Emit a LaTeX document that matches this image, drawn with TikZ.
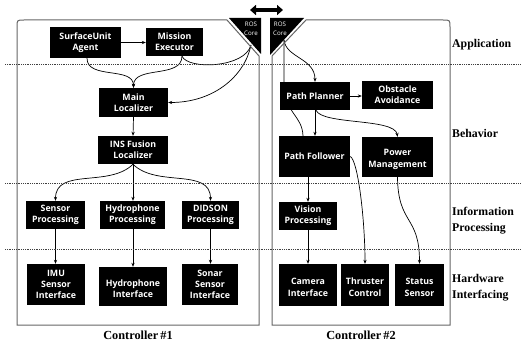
\documentclass[tikz,border=0pt]{standalone}
\usepackage{fontspec}
\setmainfont{Liberation Serif}
\newfontfamily\boxfont{Open Sans}
\usetikzlibrary{arrows.meta}
\pgfdeclarelayer{backdrop}
\pgfdeclarelayer{wires}
\pgfsetlayers{backdrop,wires,main}

\begin{document}
\begin{tikzpicture}[x=1pt,y=-1pt,
  blk/.style={fill=black,text=white,font=\boxfont\bfseries\fontsize{8.8}{11.3}\selectfont,
              align=center,inner sep=0pt},
  wire/.style={draw=black,line width=0.7pt},
  arr/.style={wire,-{Stealth[length=4pt,width=3.2pt]}},
  ctrlframe/.style={draw=black!60,line width=1pt},
  tierline/.style={draw=black!75,line width=0.9pt,dash pattern=on 0.9pt off 0.9pt},
  tierlabel/.style={font=\fontsize{11.8}{16}\selectfont\bfseries,align=left,anchor=west,inner sep=0pt},
  ctrl/.style={font=\fontsize{12.3}{14}\selectfont\bfseries,inner sep=0pt},
  rostxt/.style={text=white,font=\boxfont\fontsize{6.2}{8.8}\selectfont,align=center,inner sep=0pt}
]
\useasboundingbox (0,0) rectangle (523,345);
\begin{pgfonlayer}{backdrop}
\fill[white] (0,0) rectangle (523,345);
\end{pgfonlayer}

% controller frames
\draw[ctrlframe] (17,325) -- (17,27) .. controls (17,20) .. (24,20) -- (227,20) -- (259,56) -- (259,325) -- cycle;
\draw[ctrlframe] (272,325) -- (272,56) -- (306,20) -- (443,20) .. controls (450,20) .. (450,27) -- (450,325) -- cycle;

% ROS cores
\fill[black] (229,18) -- (261,18) -- (261,54) -- cycle;
\fill[black] (270,18) -- (304,18) -- (270,55) -- cycle;
\node[rostxt] (rosA) at (251,29) {ROS\\Core};
\node[rostxt] (rosB) at (280,29) {ROS\\Core};
\coordinate (ros1) at (251,45);
\coordinate (ros2) at (284,40);
\coordinate (linkL) at (250,10);
\coordinate (linkR) at (283,10);
\draw[line width=3.5pt,{Triangle[length=6pt,width=10pt]}-{Triangle[length=6pt,width=10pt]}] (linkL) -- (linkR);

% tier separators
\draw[tierline] (5,64) -- (521,64);
\draw[tierline] (5,183) -- (521,183);
\draw[tierline] (5,249) -- (521,249);

% tier labels
\node[tierlabel] (lapp) at (452,45) {Application};
\node[tierlabel] (lbeh) at (452,133) {Behavior};
\node[tierlabel] (linf) at (452,221) {Information\\Processing};
\node[tierlabel] (lhw) at (452,288) {Hardware\\Interfacing};

\node[ctrl] (c1) at (138,335) {Controller\hspace{2pt}\#1};
\node[ctrl] (c2) at (361,335) {Controller\hspace{2pt}\#2};

% controller #1 modules
\node[blk,minimum width=71pt,minimum height=31pt] (sua) at (85.5,42.5) {SurfaceUnit\\Agent};
\node[blk,minimum width=57pt,minimum height=28pt] (mex) at (174.5,42) {Mission\\Executor};
\node[blk,minimum width=69pt,minimum height=29pt] (mloc) at (133.5,102.5) {Main\\Localizer};
\node[blk,minimum width=70pt,minimum height=28pt] (ins) at (133,150) {INS Fusion\\Localizer};
\node[blk,minimum width=59pt,minimum height=28pt] (sp) at (55.5,215) {Sensor\\Processing};
\node[blk,minimum width=65pt,minimum height=28pt] (hp) at (132.5,215) {Hydrophone\\Processing};
\node[blk,minimum width=57pt,minimum height=28pt] (dp) at (210.5,215) {DIDSON\\Processing};
\node[blk,minimum width=58pt,minimum height=41pt] (imu) at (56,284.5) {IMU\\Sensor\\Interface};
\node[blk,minimum width=68pt,minimum height=39pt] (hif) at (133,286.5) {\mbox{}\\Hydrophone\\Interface};
\node[blk,minimum width=56pt,minimum height=41pt] (ssi) at (210,284.5) {Sonar\\Sensor\\Interface};

% controller #2 modules
\node[blk,minimum width=70pt,minimum height=28pt] (pp) at (315,96) {Path Planner};
\node[blk,minimum width=71pt,minimum height=28pt] (oa) at (397.5,95) {Obstacle\\Avoidance};
\node[blk,minimum width=71pt,minimum height=41pt] (pf) at (314.5,156.5) {Path Follower};
\node[blk,minimum width=71pt,minimum height=40pt] (pm) at (397.5,157) {\mbox{}\\Power\\Management};
\node[blk,minimum width=58pt,minimum height=28pt] (vp) at (308,216) {Vision\\Processing};
\node[blk,minimum width=58pt,minimum height=42pt] (ci) at (308,285) {\mbox{}\\Camera\\Interface};
\node[blk,minimum width=48pt,minimum height=42pt] (tc) at (365,285) {\mbox{}\\Thruster\\Control};
\node[blk,minimum width=49pt,minimum height=42pt] (ss) at (419.5,285) {\mbox{}\\Status\\Sensor};

\begin{pgfonlayer}{wires}
% controller #1 links
\draw[arr] (sua.east) -- (mex.west |- sua.east);
\draw[arr] ([xshift=1.5pt]sua.south) to[out=-90,in=90] (mloc.north);
\draw[arr] ([xshift=7.5pt]mex.south) to[out=-90,in=90] (mloc.north);
\draw[wire] ([xshift=7.5pt]mex.south) .. controls (188,70) and (245,68) .. (ros1);
\draw[arr] (ros1) .. controls (245,75) and (215,102.5) .. (mloc.east);
\draw[arr] (mloc.south) -- (ins.north);
\draw[arr] (ins.south) to[out=-135,in=90] (sp.north);
\draw[arr] (ins.south) -- (ins.south |- hp.north);
\draw[arr] (ins.south) to[out=-45,in=90] (dp.north);
\draw[arr] (sp.south) -- (sp.south |- imu.north);
\draw[arr] (ins.south |- hp.south) -- (ins.south |- hif.north);
\draw[arr] (dp.south) -- (dp.south |- ssi.north);

% controller #2 links
\draw[arr] (ros2) .. controls (286,58) and (315,58) .. (pp.north);
\draw[wire] (ros2) -- (284,85) .. controls (286,115) and (302,115) .. ([xshift=-11.5pt]pf.north);
\draw[arr] (pp.east) -- (oa.west |- pp.east);
\draw[arr] (pp.south) -- (pp.south |- pf.north);
\draw[arr] ([xshift=1pt]pp.south) .. controls (322,125) and (395,118) .. (pm.north);
\draw[arr] (pf.east) .. controls (358,160) and (365,220) .. (tc.north);
\draw[arr] (pm.south) .. controls (398,225) and (419.5,215) .. (ss.north);
\draw[arr] (vp.north |- pf.south) -- (vp.north);
\draw[arr] (vp.south) -- (ci.north);
\end{pgfonlayer}
\end{tikzpicture}
\end{document}
